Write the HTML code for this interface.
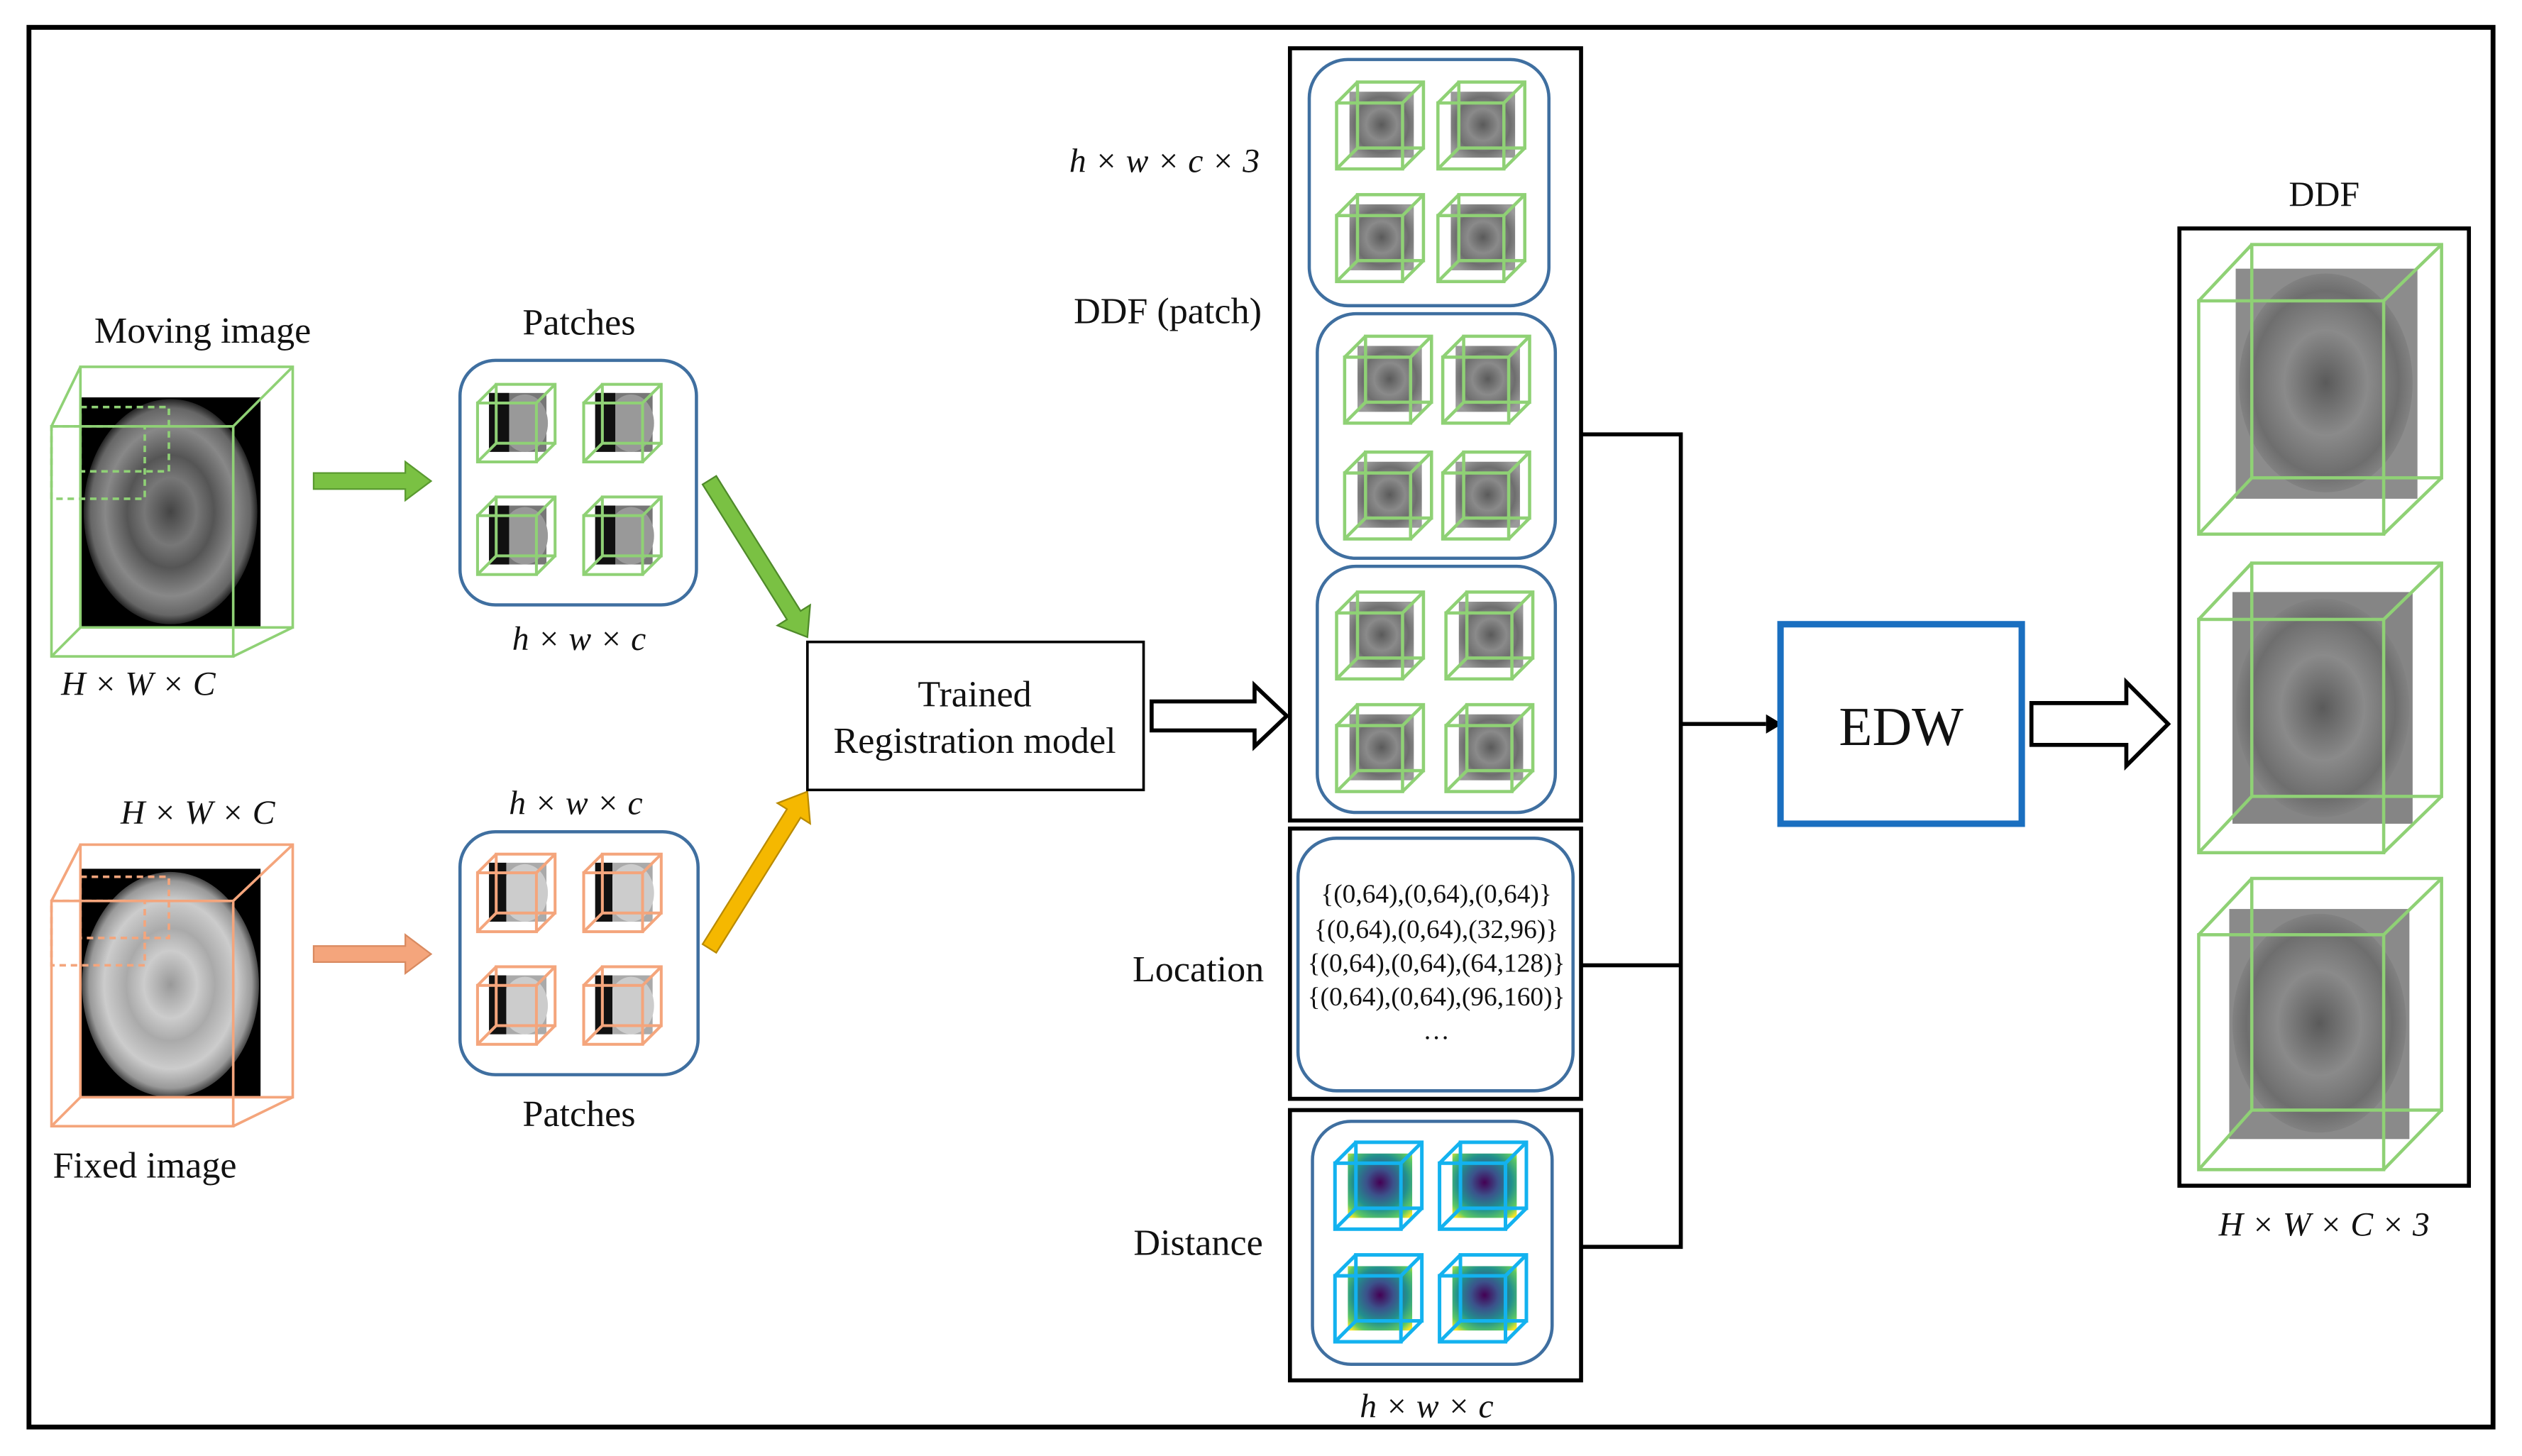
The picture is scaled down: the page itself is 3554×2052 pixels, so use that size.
<!DOCTYPE html>
<html><head><meta charset="utf-8"><style>
html,body{margin:0;padding:0;background:#fff;}
svg{display:block;}
text{font-family:"Liberation Serif",serif;fill:#111;}
</style></head><body>
<svg width="3554" height="2052" viewBox="0 0 1568 905" preserveAspectRatio="none" xmlns="http://www.w3.org/2000/svg">
<defs>
<radialGradient id="vir" cx="0.5" cy="0.45" r="0.7">
<stop offset="0" stop-color="#440154"/><stop offset="0.3" stop-color="#3b528b"/><stop offset="0.6" stop-color="#21908d"/><stop offset="0.85" stop-color="#5dc963"/><stop offset="1" stop-color="#fde725"/>
</radialGradient>
<radialGradient id="ddfg" cx="0.5" cy="0.5" r="0.6">
<stop offset="0" stop-color="#5a5a5a"/><stop offset="0.4" stop-color="#8a8a8a"/><stop offset="0.7" stop-color="#6e6e6e"/><stop offset="1" stop-color="#9a9a9a"/>
</radialGradient>
<radialGradient id="brainM" cx="0.5" cy="0.5" r="0.5">
<stop offset="0" stop-color="#444"/><stop offset="0.3" stop-color="#777"/><stop offset="0.5" stop-color="#555"/><stop offset="0.75" stop-color="#888"/><stop offset="0.92" stop-color="#666"/><stop offset="1" stop-color="#222"/>
</radialGradient>
<radialGradient id="brainF" cx="0.5" cy="0.5" r="0.5">
<stop offset="0" stop-color="#999"/><stop offset="0.3" stop-color="#ccc"/><stop offset="0.5" stop-color="#aaa"/><stop offset="0.75" stop-color="#ccc"/><stop offset="0.92" stop-color="#999"/><stop offset="1" stop-color="#444"/>
</radialGradient>
<symbol id="gc" viewBox="0 0 56 56" overflow="visible">
<rect x="9" y="7" width="40" height="41" fill="url(#ddfg)"/>
<g fill="none" stroke="#8fd175" stroke-width="2"><rect x="1" y="14" width="41" height="41"/><rect x="14" y="1" width="41" height="41"/>
<line x1="1" y1="14" x2="14" y2="1"/><line x1="42" y1="14" x2="55" y2="1"/><line x1="42" y1="55" x2="55" y2="42"/><line x1="1" y1="55" x2="14" y2="42"/></g>
</symbol>
<symbol id="pc" viewBox="0 0 56 56" overflow="visible">
<rect x="9" y="7" width="40" height="41" fill="#777"/>
<ellipse cx="34" cy="28" rx="16" ry="20" fill="#999"/>
<rect x="9" y="7" width="14" height="41" fill="#111"/>
<g fill="none" stroke="#8fd175" stroke-width="2"><rect x="1" y="14" width="41" height="41"/><rect x="14" y="1" width="41" height="41"/>
<line x1="1" y1="14" x2="14" y2="1"/><line x1="42" y1="14" x2="55" y2="1"/><line x1="42" y1="55" x2="55" y2="42"/><line x1="1" y1="55" x2="14" y2="42"/></g>
</symbol>
<symbol id="oc" viewBox="0 0 56 56" overflow="visible">
<rect x="9" y="7" width="40" height="41" fill="#aaa"/>
<ellipse cx="34" cy="28" rx="16" ry="20" fill="#ccc"/>
<rect x="9" y="7" width="12" height="41" fill="#111"/>
<g fill="none" stroke="#f4a57c" stroke-width="2"><rect x="1" y="14" width="41" height="41"/><rect x="14" y="1" width="41" height="41"/>
<line x1="1" y1="14" x2="14" y2="1"/><line x1="42" y1="14" x2="55" y2="1"/><line x1="42" y1="55" x2="55" y2="42"/><line x1="1" y1="55" x2="14" y2="42"/></g>
</symbol>
<symbol id="vc" viewBox="0 0 56 56" overflow="visible">
<rect x="9" y="8" width="40" height="40" fill="url(#vir)"/>
<g fill="none" stroke="#13b2ef" stroke-width="2.2"><rect x="1" y="14" width="41" height="41"/><rect x="14" y="1" width="41" height="41"/>
<line x1="1" y1="14" x2="14" y2="1"/><line x1="42" y1="14" x2="55" y2="1"/><line x1="42" y1="55" x2="55" y2="42"/><line x1="1" y1="55" x2="14" y2="42"/></g>
</symbol>
</defs>

<rect x="18" y="17" width="1532" height="870" fill="none" stroke="#000" stroke-width="3"/>

<!-- Moving image -->
<text x="126" y="213" font-size="23" text-anchor="middle">Moving image</text>
<rect x="50" y="247" width="112" height="143" fill="#000"/>
<ellipse cx="106" cy="318" rx="54" ry="70" fill="url(#brainM)"/>
<g fill="none" stroke="#8fd175" stroke-width="1.6">
<rect x="32" y="265" width="113" height="143"/><rect x="50" y="228" width="132" height="162"/>
<line x1="32" y1="265" x2="50" y2="228"/><line x1="145" y1="265" x2="182" y2="228"/><line x1="145" y1="408" x2="182" y2="390"/><line x1="32" y1="408" x2="50" y2="390"/>
<rect x="32" y="265" width="58" height="45" stroke-dasharray="4,3"/><rect x="50" y="253" width="55" height="40" stroke-dasharray="4,3"/>
</g>
<text x="38" y="432" font-size="21" font-style="italic">H × W × C</text>

<!-- Fixed image -->
<text x="75" y="512" font-size="21" font-style="italic">H × W × C</text>
<rect x="50" y="540" width="112" height="142" fill="#000"/>
<ellipse cx="106" cy="612" rx="55" ry="70" fill="url(#brainF)"/>
<g fill="none" stroke="#f4a57c" stroke-width="1.6">
<rect x="32" y="560" width="113" height="140"/><rect x="50" y="525" width="132" height="157"/>
<line x1="32" y1="560" x2="50" y2="525"/><line x1="145" y1="560" x2="182" y2="525"/><line x1="145" y1="700" x2="182" y2="682"/><line x1="32" y1="700" x2="50" y2="682"/>
<rect x="32" y="560" width="58" height="40" stroke-dasharray="4,3"/><rect x="50" y="545" width="55" height="38" stroke-dasharray="4,3"/>
</g>
<text x="90" y="732" font-size="23" text-anchor="middle">Fixed image</text>

<!-- small arrows -->
<polygon points="195,294 252,294 252,287 268,299 252,311 252,304 195,304" fill="#7ac143" stroke="#5a9a30" stroke-width="1"/>
<polygon points="195,588 252,588 252,581 268,593 252,605 252,598 195,598" fill="#f4a57c" stroke="#d98a60" stroke-width="1"/>

<!-- Patches top -->
<text x="360" y="208" font-size="23" text-anchor="middle">Patches</text>
<rect x="286" y="224" width="147" height="152" rx="22" fill="none" stroke="#3f6fa0" stroke-width="2"/>
<use href="#pc" x="296" y="238" width="50" height="50"/><use href="#pc" x="362" y="238" width="50" height="50"/>
<use href="#pc" x="296" y="308" width="50" height="50"/><use href="#pc" x="362" y="308" width="50" height="50"/>
<text x="360" y="404" font-size="21" font-style="italic" text-anchor="middle">h × w × c</text>

<!-- Patches bottom -->
<text x="358" y="506" font-size="21" font-style="italic" text-anchor="middle">h × w × c</text>
<rect x="286" y="517" width="148" height="151" rx="22" fill="none" stroke="#3f6fa0" stroke-width="2"/>
<use href="#oc" x="296" y="530" width="50" height="50"/><use href="#oc" x="362" y="530" width="50" height="50"/>
<use href="#oc" x="296" y="600" width="50" height="50"/><use href="#oc" x="362" y="600" width="50" height="50"/>
<text x="360" y="700" font-size="23" text-anchor="middle">Patches</text>

<!-- diagonal arrows -->
<g transform="translate(502,396) rotate(58)"><polygon points="-115,-5 -16,-5 -16,-12 0,0 -16,12 -16,5 -115,5" fill="#7ac143" stroke="#4f8a2a" stroke-width="1"/></g>
<g transform="translate(502,492) rotate(-58)"><polygon points="-115,-5 -16,-5 -16,-12 0,0 -16,12 -16,5 -115,5" fill="#f5b800" stroke="#b98a00" stroke-width="1"/></g>

<!-- Trained model -->
<rect x="502" y="399" width="209" height="92" fill="#fff" stroke="#000" stroke-width="1.6"/>
<text x="606" y="439" font-size="23" text-anchor="middle">Trained</text>
<text x="606" y="468" font-size="23" text-anchor="middle">Registration model</text>

<polygon points="716,436 780,436 780,426 800,445 780,464 780,454 716,454" fill="#fff" stroke="#000" stroke-width="2.5"/>

<!-- DDF patch column -->
<text x="724" y="107" font-size="21" font-style="italic" text-anchor="middle">h × w × c × 3</text>
<text x="726" y="201" font-size="23" text-anchor="middle">DDF (patch)</text>
<rect x="802" y="30" width="181" height="480" fill="none" stroke="#000" stroke-width="2.5"/>
<rect x="814" y="37" width="149" height="153" rx="24" fill="none" stroke="#3f6fa0" stroke-width="2"/>
<rect x="819" y="195" width="148" height="152" rx="24" fill="none" stroke="#3f6fa0" stroke-width="2"/>
<rect x="819" y="352" width="148" height="153" rx="24" fill="none" stroke="#3f6fa0" stroke-width="2"/>
<use href="#gc" x="830" y="50" width="56" height="56"/><use href="#gc" x="893" y="50" width="56" height="56"/>
<use href="#gc" x="830" y="120" width="56" height="56"/><use href="#gc" x="893" y="120" width="56" height="56"/>
<use href="#gc" x="835" y="208" width="56" height="56"/><use href="#gc" x="896" y="208" width="56" height="56"/>
<use href="#gc" x="835" y="280" width="56" height="56"/><use href="#gc" x="896" y="280" width="56" height="56"/>
<use href="#gc" x="830" y="367" width="56" height="56"/><use href="#gc" x="898" y="367" width="56" height="56"/>
<use href="#gc" x="830" y="437" width="56" height="56"/><use href="#gc" x="898" y="437" width="56" height="56"/>

<!-- Location -->
<text x="745" y="610" font-size="23" text-anchor="middle">Location</text>
<rect x="802" y="515" width="181" height="168" fill="none" stroke="#000" stroke-width="2.5"/>
<rect x="807" y="521" width="171" height="157" rx="24" fill="none" stroke="#3f6fa0" stroke-width="2"/>
<g font-size="16.5" text-anchor="middle">
<text x="893" y="561">{(0,64),(0,64),(0,64)}</text>
<text x="893" y="583">{(0,64),(0,64),(32,96)}</text>
<text x="893" y="604">{(0,64),(0,64),(64,128)}</text>
<text x="893" y="625">{(0,64),(0,64),(96,160)}</text>
<text x="893" y="646">…</text>
</g>

<!-- Distance -->
<text x="745" y="780" font-size="23" text-anchor="middle">Distance</text>
<rect x="802" y="690" width="181" height="168" fill="none" stroke="#000" stroke-width="2.5"/>
<rect x="816" y="697" width="149" height="151" rx="24" fill="none" stroke="#3f6fa0" stroke-width="2"/>
<use href="#vc" x="829" y="709" width="56" height="56"/><use href="#vc" x="894" y="709" width="56" height="56"/>
<use href="#vc" x="829" y="779" width="56" height="56"/><use href="#vc" x="894" y="779" width="56" height="56"/>
<text x="887" y="881" font-size="21" font-style="italic" text-anchor="middle">h × w × c</text>

<!-- connectors -->
<g fill="none" stroke="#000" stroke-width="2.5">
<polyline points="983,270 1045,270 1045,775 983,775"/>
<line x1="983" y1="600" x2="1045" y2="600"/>
<line x1="1045" y1="450" x2="1098" y2="450"/>
</g>
<polygon points="1098,444 1108,450 1098,456" fill="#000"/>

<!-- EDW -->
<rect x="1107" y="388" width="150" height="124" fill="#fff" stroke="#1a6fc0" stroke-width="4"/>
<text x="1182" y="463" font-size="34" text-anchor="middle">EDW</text>

<polygon points="1263,437 1322,437 1322,424 1348,450 1322,476 1322,463 1263,463" fill="#fff" stroke="#000" stroke-width="2.5"/>

<!-- DDF output -->
<text x="1445" y="128" font-size="22" text-anchor="middle">DDF</text>
<rect x="1355" y="142" width="180" height="595" fill="none" stroke="#000" stroke-width="2.5"/>
<g>
<rect x="1390" y="167" width="113" height="143" fill="#8c8c8c"/>
<ellipse cx="1446" cy="238" rx="54" ry="68" fill="url(#ddfg)"/>
<rect x="1388" y="368" width="112" height="144" fill="#858585"/>
<ellipse cx="1444" cy="440" rx="54" ry="68" fill="url(#ddfg)"/>
<rect x="1386" y="565" width="112" height="143" fill="#8a8a8a"/>
<ellipse cx="1442" cy="636" rx="54" ry="68" fill="url(#ddfg)"/>
</g>
<g fill="none" stroke="#8fd175" stroke-width="2">
<rect x="1367" y="187" width="115" height="145"/><rect x="1400" y="152" width="118" height="145"/>
<line x1="1367" y1="187" x2="1400" y2="152"/><line x1="1482" y1="187" x2="1518" y2="152"/><line x1="1482" y1="332" x2="1518" y2="297"/><line x1="1367" y1="332" x2="1400" y2="297"/>
<rect x="1367" y="385" width="115" height="145"/><rect x="1400" y="350" width="118" height="145"/>
<line x1="1367" y1="385" x2="1400" y2="350"/><line x1="1482" y1="385" x2="1518" y2="350"/><line x1="1482" y1="530" x2="1518" y2="495"/><line x1="1367" y1="530" x2="1400" y2="495"/>
<rect x="1367" y="581" width="115" height="146"/><rect x="1400" y="546" width="118" height="144"/>
<line x1="1367" y1="581" x2="1400" y2="546"/><line x1="1482" y1="581" x2="1518" y2="546"/><line x1="1482" y1="727" x2="1518" y2="690"/><line x1="1367" y1="727" x2="1400" y2="690"/>
</g>
<text x="1445" y="768" font-size="21" font-style="italic" text-anchor="middle">H × W × C × 3</text>
</svg>
</body></html>
